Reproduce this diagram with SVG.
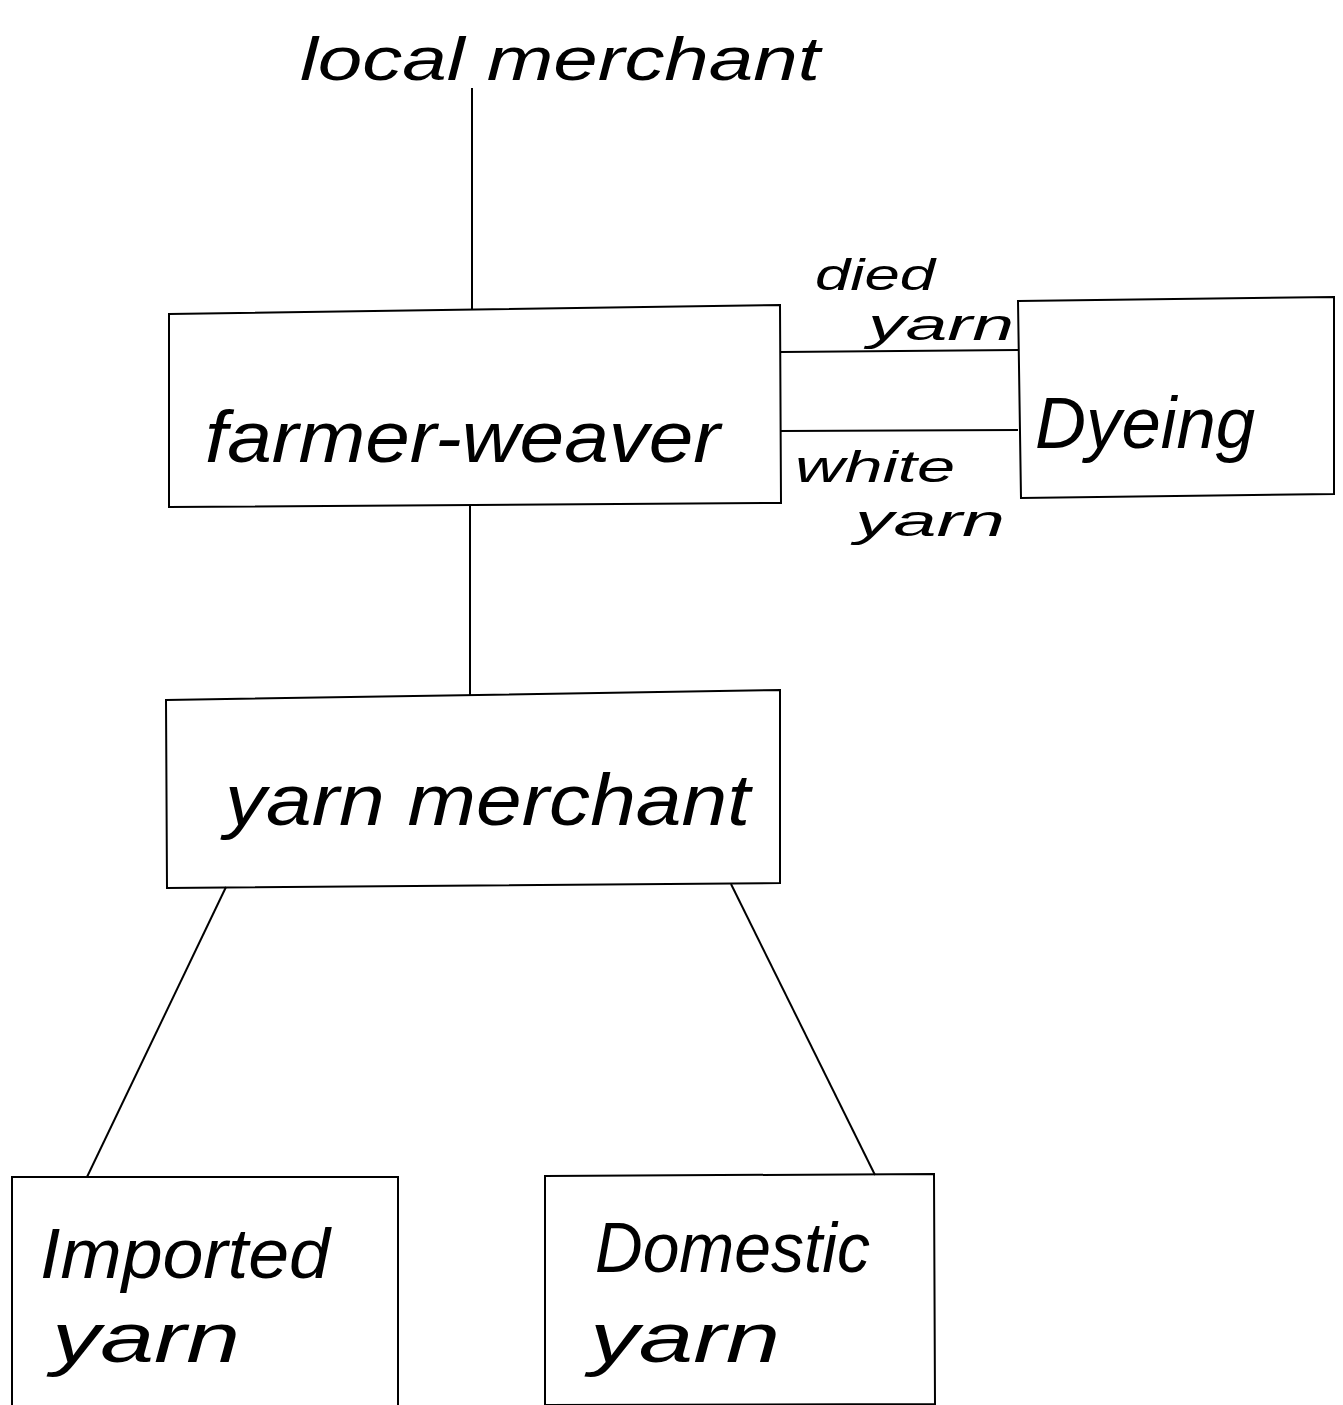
<svg xmlns="http://www.w3.org/2000/svg" width="1343" height="1405" viewBox="0 0 1343 1405">
<style>
.box{fill:none;stroke:#000;stroke-width:2}
.ln{stroke:#000;stroke-width:2;fill:none}
.t{font-family:"Liberation Sans","DejaVu Sans",sans-serif;font-style:italic;fill:#000}
</style>
<rect width="1343" height="1405" fill="#fff"/>
<g id="connectors">
<line class="ln" x1="472" y1="88" x2="472" y2="310"/>
<line class="ln" x1="470" y1="506" x2="470" y2="696"/>
<line class="ln" x1="781" y1="352" x2="1018" y2="350"/>
<line class="ln" x1="781" y1="431" x2="1018" y2="430"/>
<line class="ln" x1="226" y1="887" x2="87" y2="1177"/>
<line class="ln" x1="731" y1="884" x2="875" y2="1175"/>
</g>
<g id="local-merchant">
<text class="t" x="300" y="80" font-size="62" textLength="520" lengthAdjust="spacingAndGlyphs">local merchant</text>
</g>
<g id="farmer-weaver">
<polygon class="box" points="169,314 780,305 781,503 169,507"/>
<text class="t" x="205" y="462" font-size="72" textLength="515" lengthAdjust="spacingAndGlyphs">farmer-weaver</text>
</g>
<g id="dyeing">
<polygon class="box" points="1018,301 1334,297 1334,494 1021,498"/>
<text class="t" x="1035" y="448" font-size="72" textLength="220" lengthAdjust="spacingAndGlyphs">Dyeing</text>
</g>
<g id="labels">
<text class="t" x="815" y="290" font-size="44" textLength="120" lengthAdjust="spacingAndGlyphs">died</text>
<text class="t" x="868" y="340" font-size="44" textLength="146" lengthAdjust="spacingAndGlyphs">yarn</text>
<text class="t" x="795" y="482" font-size="44" textLength="160" lengthAdjust="spacingAndGlyphs">white</text>
<text class="t" x="855" y="536" font-size="44" textLength="150" lengthAdjust="spacingAndGlyphs">yarn</text>
</g>
<g id="yarn-merchant">
<polygon class="box" points="166,700 780,690 780,883 167,888"/>
<text class="t" x="225" y="825" font-size="72" textLength="525" lengthAdjust="spacingAndGlyphs">yarn merchant</text>
</g>
<g id="imported-yarn">
<polyline class="box" points="12,1405 12,1177 398,1177 398,1405"/>
<text class="t" x="40" y="1278" font-size="70" textLength="290" lengthAdjust="spacingAndGlyphs">Imported</text>
<text class="t" x="52" y="1362" font-size="70" textLength="188" lengthAdjust="spacingAndGlyphs">yarn</text>
</g>
<g id="domestic-yarn">
<polygon class="box" points="545,1176 934,1174 935,1404 545,1405"/>
<text class="t" x="595" y="1272" font-size="70" textLength="275" lengthAdjust="spacingAndGlyphs">Domestic</text>
<text class="t" x="590" y="1362" font-size="70" textLength="190" lengthAdjust="spacingAndGlyphs">yarn</text>
</g>
</svg>
